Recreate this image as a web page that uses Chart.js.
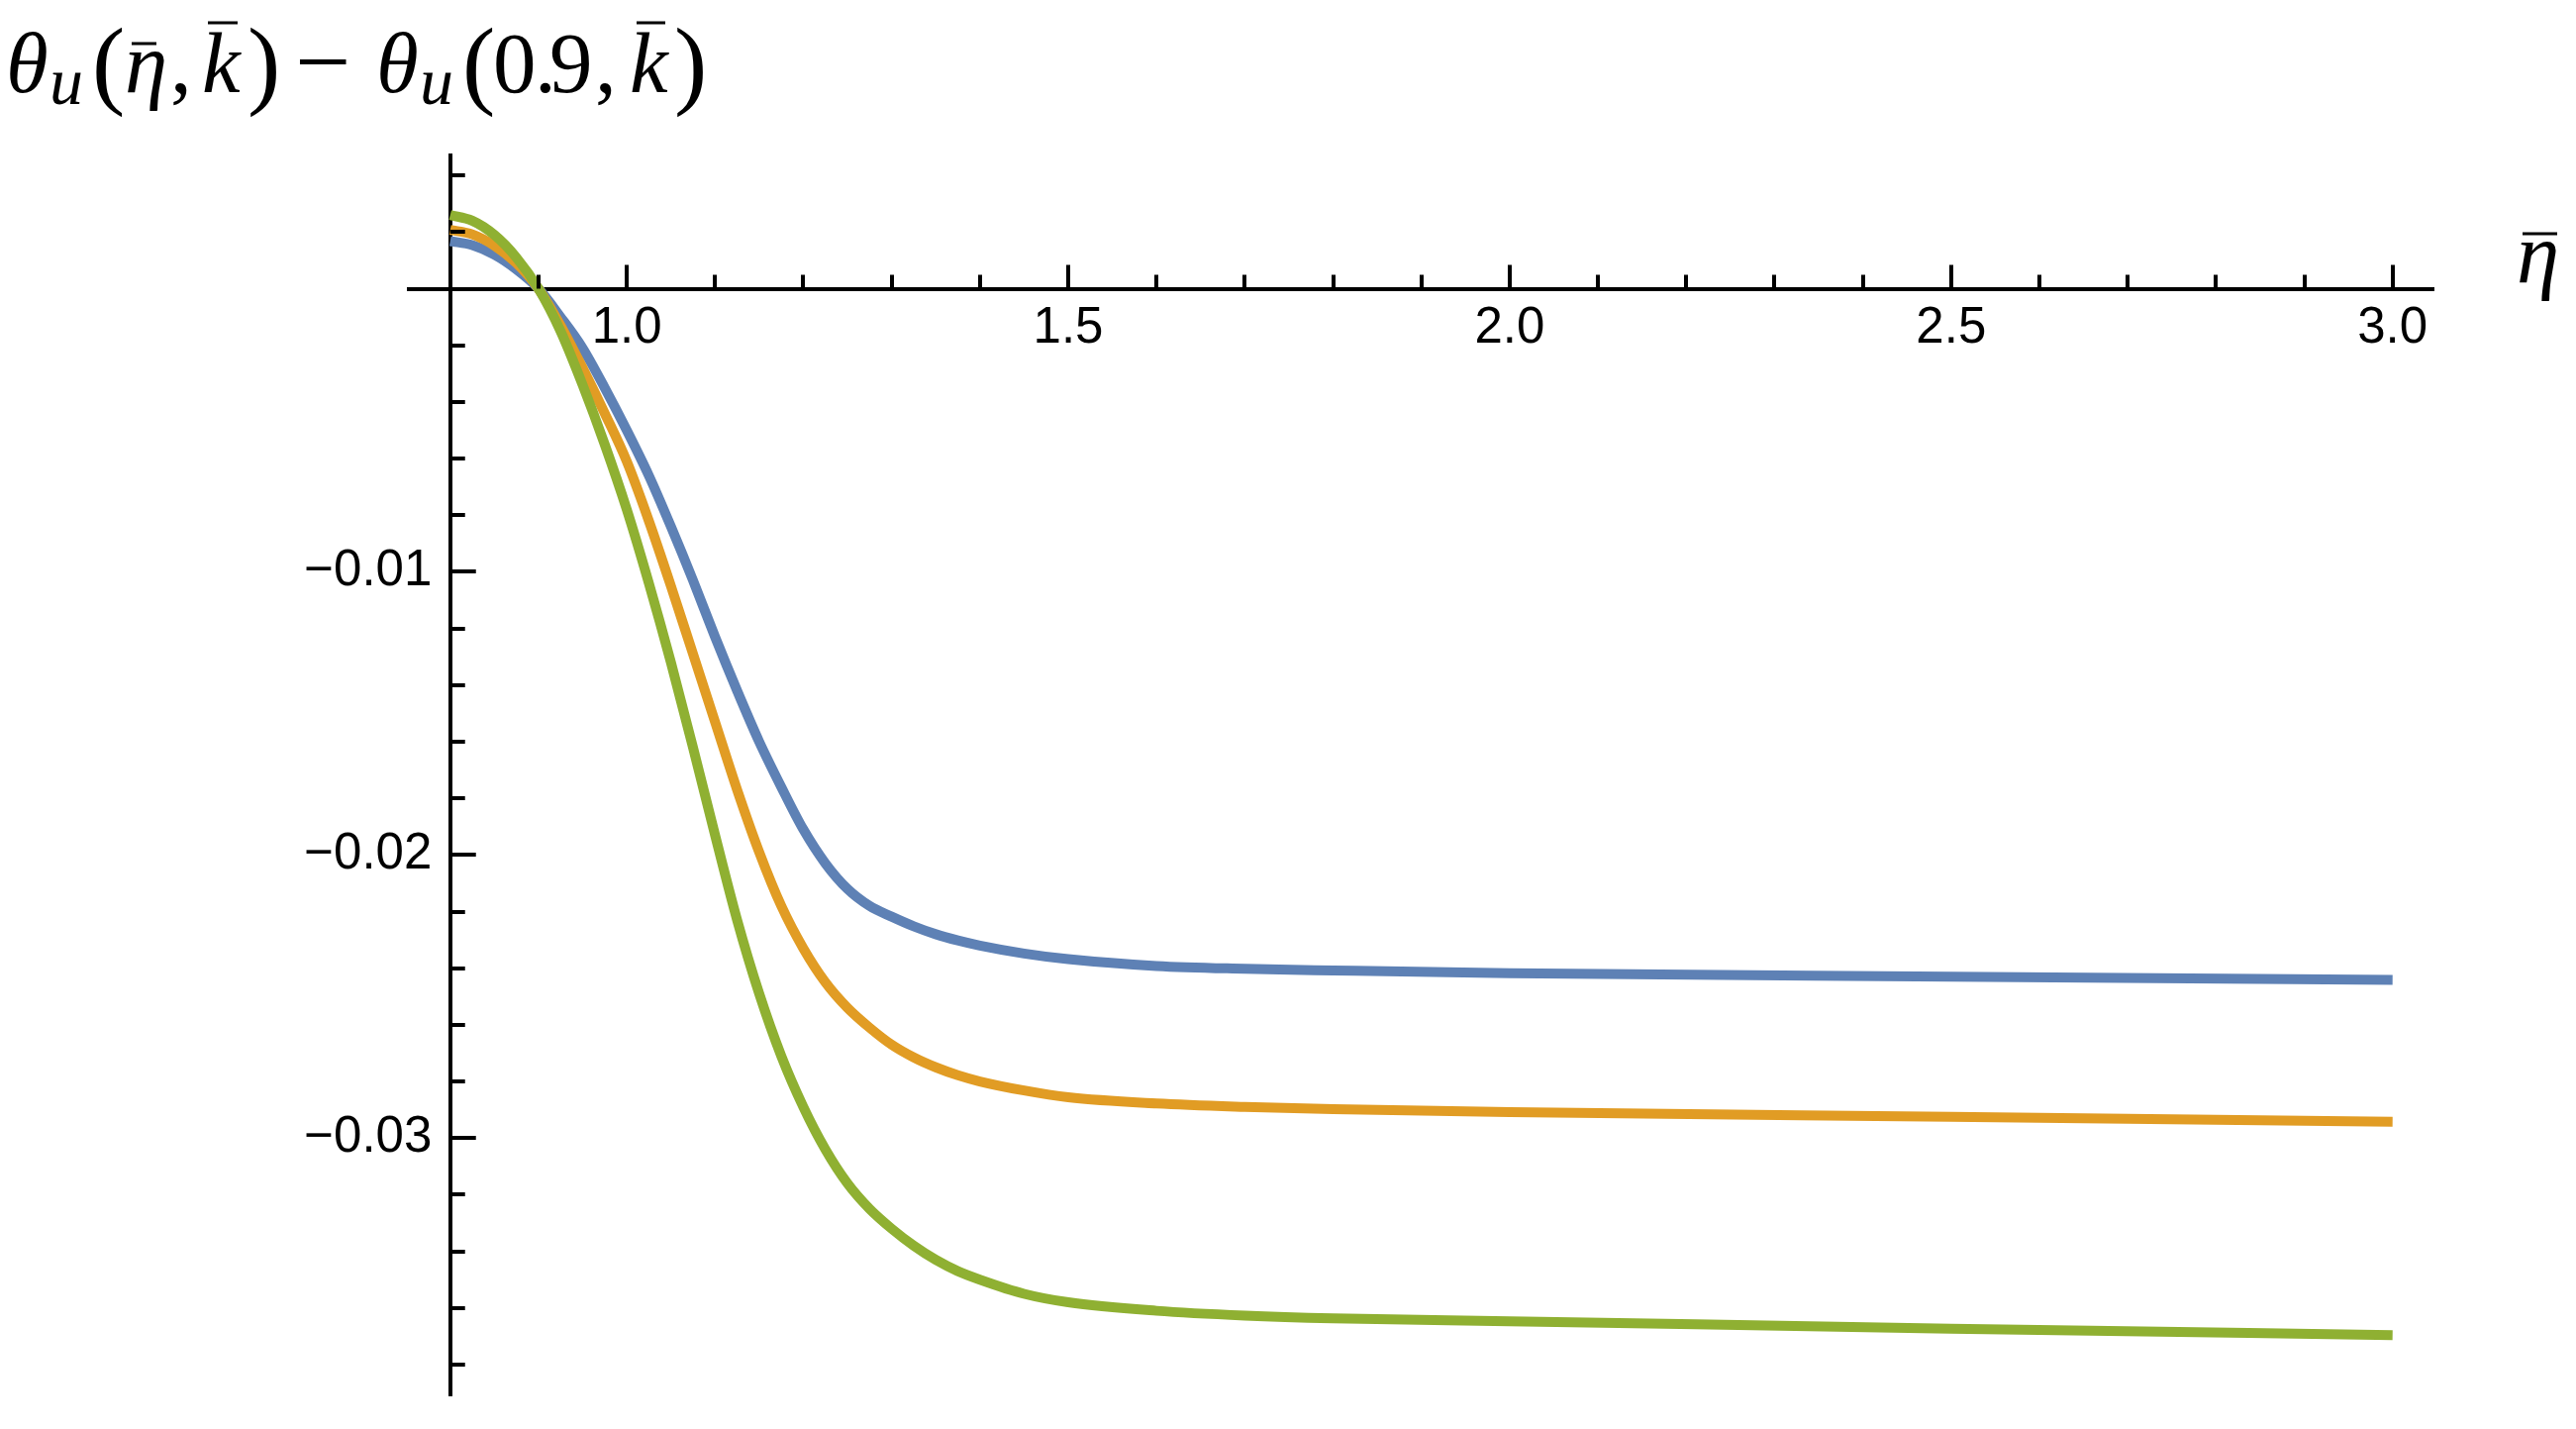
<!DOCTYPE html>
<html>
<head>
<meta charset="utf-8">
<script src="https://cdn.jsdelivr.net/npm/chart.js@4.4.1/dist/chart.umd.min.js"></script>
<style>
  html, body { margin: 0; padding: 0; background: #fff; }
  #wrap { width: 2602px; height: 1443px; }
</style>
</head>
<body>
<div id="wrap"><canvas id="thetaChart" width="2602" height="1443"></canvas></div>
<script>
// sample points along eta-bar, shared by the three curves
const etaBar = [0.800, 0.825, 0.850, 0.875, 0.900, 0.925, 0.950, 0.975, 1.000, 1.025, 1.050, 1.075,
                1.100, 1.125, 1.150, 1.175, 1.200, 1.225, 1.250, 1.275, 1.300, 1.325, 1.350, 1.375,
                1.400, 1.450, 1.500, 1.600, 1.700, 1.800, 2.000, 2.500, 3.000];

// theta_u(eta, k) - theta_u(0.9, k) for the three k values
const thetaBlue = [0.00168, 0.00154, 0.00120, 0.00068, 0.0, -0.0010, -0.0021, -0.0035, -0.0050, -0.0066, -0.0084, -0.0103,
                   -0.0123, -0.0142, -0.0160, -0.0176, -0.0191, -0.0203, -0.0212, -0.0218, -0.02218, -0.02252, -0.0228, -0.02302,
                   -0.0232, -0.02348, -0.02368, -0.02392, -0.02402, -0.02408, -0.02418, -0.0243, -0.02441];
const thetaOrange = [0.00208, 0.00192, 0.00152, 0.00090, 0.0, -0.0013, -0.0028, -0.0044, -0.0061, -0.0082, -0.0105, -0.0129,
                     -0.0153, -0.0177, -0.0199, -0.0218, -0.0233, -0.0245, -0.0254, -0.0261, -0.0267, -0.02715, -0.0275, -0.02778,
                     -0.0280, -0.02832, -0.02856, -0.02878, -0.0289, -0.02898, -0.02908, -0.02925, -0.02942];
const thetaGreen = [0.00260, 0.00240, 0.00190, 0.00110, 0.0, -0.0015, -0.0034, -0.0055, -0.0078, -0.0104, -0.0132, -0.0162,
                    -0.0193, -0.0223, -0.0249, -0.0271, -0.0289, -0.0304, -0.0316, -0.0325, -0.0332, -0.0338, -0.0343, -0.0347,
                    -0.0350, -0.0355, -0.0358, -0.0361, -0.03627, -0.03637, -0.03647, -0.03673, -0.03696];

const xTickLabels = [1.0, 1.5, 2.0, 2.5, 3.0];
const yTickLabels = [-0.03, -0.02, -0.01];

// minor ticks (Mathematica style, no labels)
const xMinorTicks = [];
for (let i = 9; i <= 29; i++) if (i % 5 !== 0) xMinorTicks.push(i / 10);
const yMinorTicks = [];
for (let i = 2; i >= -19; i--) if (i !== 0 && i % 5 !== 0) yMinorTicks.push(i * 0.002);

const AXIS_ORIGIN_X = 0.8;

function toPoints(ys) {
    return etaBar.map((x, i) => ({ x: x, y: ys[i] }));
}

// Inward tick marks and the typeset labels (title + axis name)
const axisDecor = {
    id: 'axisDecor',
    afterDraw(chart) {
        const ctx = chart.ctx;
        const xs = chart.scales.x;
        const ys = chart.scales.y;
        const x0 = xs.getPixelForValue(AXIS_ORIGIN_X);
        const y0 = ys.getPixelForValue(0);

        ctx.save();
        ctx.strokeStyle = '#000';
        ctx.lineWidth = 4;
        ctx.lineCap = 'butt';
        ctx.beginPath();
        xTickLabels.forEach(v => {
            const px = Math.round(xs.getPixelForValue(v));
            ctx.moveTo(px, y0); ctx.lineTo(px, y0 - 24);
        });
        xMinorTicks.forEach(v => {
            const px = Math.round(xs.getPixelForValue(v));
            ctx.moveTo(px, y0); ctx.lineTo(px, y0 - 14);
        });
        yTickLabels.forEach(v => {
            const py = Math.round(ys.getPixelForValue(v));
            ctx.moveTo(x0, py); ctx.lineTo(x0 + 26, py);
        });
        yMinorTicks.forEach(v => {
            const py = Math.round(ys.getPixelForValue(v));
            ctx.moveTo(x0, py); ctx.lineTo(x0 + 15, py);
        });
        ctx.stroke();

        // title: theta_u(eta-bar, k-bar) - theta_u(0.9, k-bar)
        ctx.fillStyle = '#000';
        ctx.textBaseline = 'alphabetic';
        ctx.textAlign = 'left';
        const it = 'italic 87px "Liberation Serif"';
        const sub = 'italic 68px "Liberation Serif"';
        const rm = '87px "Liberation Serif"';
        const par = '100px "Liberation Serif"';
        const pieces = [
            ['\u03B8', it, 6, 93],
            ['u', sub, 50, 105],
            ['(', par, 93, 97],
            ['\u03B7', it, 126, 93],
            [',', rm, 172, 93],
            ['k', it, 204, 93],
            [')', par, 250, 97],
            ['\u2212', par, 298, 96],
            ['\u03B8', it, 380, 93],
            ['u', sub, 424, 105],
            ['(', par, 467, 97],
            ['0', rm, 498, 93],
            ['.', rm, 540, 93],
            ['9', rm, 555, 93],
            [',', rm, 601, 93],
            ['k', it, 636, 93],
            [')', par, 681, 97],
            // horizontal axis name
            ['\u03B7', it, 2542, 285]
        ];
        pieces.forEach(p => {
            ctx.font = p[1];
            ctx.fillText(p[0], p[2], p[3]);
        });
        // overbars
        const bars = [[133, 158, 44], [210, 240, 23], [643, 672, 23], [2548, 2583, 236]];
        bars.forEach(b => ctx.fillRect(b[0], b[2] - 1.5, b[1] - b[0], 3));
        ctx.restore();
    }
};

Chart.defaults.font.family = '"Liberation Sans", Arial, sans-serif';

const chart = new Chart(document.getElementById('thetaChart').getContext('2d'), {
    type: 'line',
    data: {
        datasets: [
            { label: 'k1', data: toPoints(thetaBlue), borderColor: '#5E81B5', order: 3 },
            { label: 'k2', data: toPoints(thetaOrange), borderColor: '#E19C24', order: 2 },
            { label: 'k3', data: toPoints(thetaGreen), borderColor: '#8FB032', order: 1 }
        ]
    },
    options: {
        responsive: false,
        animation: false,
        devicePixelRatio: 1,
        layout: { padding: { left: 413, right: 144, top: 157, bottom: 24 } },
        elements: {
            line: { borderWidth: 10, cubicInterpolationMode: 'monotone', fill: false },
            point: { radius: 0, hoverRadius: 0 }
        },
        plugins: {
            legend: { display: false },
            tooltip: { enabled: false },
            title: { display: false }
        },
        scales: {
            x: {
                type: 'linear',
                min: 0.7532,
                max: 3.0463,
                position: { y: 0 },
                grid: { display: true, drawOnChartArea: false, drawTicks: false },
                border: { display: true, color: '#000', width: 4 },
                ticks: {
                    color: '#000',
                    font: { size: 51 },
                    padding: 10,
                    autoSkip: false,
                    maxRotation: 0,
                    callback: v => v.toFixed(1)
                },
                afterBuildTicks: s => { s.ticks = xTickLabels.map(value => ({ value })); }
            },
            y: {
                type: 'linear',
                min: -0.0391,
                max: 0.004705,
                position: { x: AXIS_ORIGIN_X },
                grid: { display: true, drawOnChartArea: false, drawTicks: false },
                border: { display: true, color: '#000', width: 4 },
                ticks: {
                    color: '#000',
                    font: { size: 51 },
                    autoSkip: false,
                    // labels sit flush on the axis, pad with a space
                    callback: v => '\u2212' + Math.abs(v).toFixed(2) + ' \u200A'
                },
                afterBuildTicks: s => { s.ticks = yTickLabels.map(value => ({ value })); }
            }
        }
    },
    plugins: [axisDecor]
});
</script>
</body>
</html>
